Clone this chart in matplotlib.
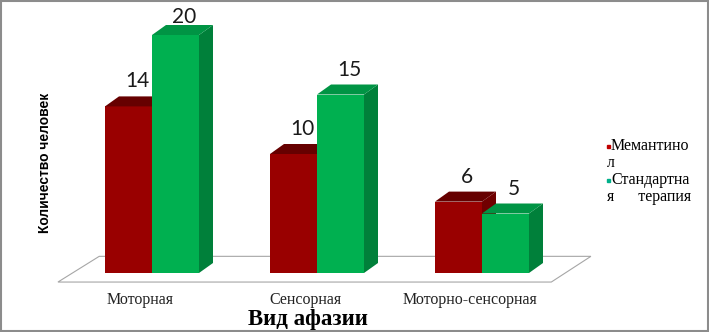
import numpy as np
import matplotlib.pyplot as plt
from matplotlib.patches import Polygon

categories = ["Моторная", "Сенсорная", "Моторно-сенсорная"]
memantinol = [14, 10, 6]
standard = [20, 15, 5]
series_names = ["Мемантино\nл", "Стандартна\nя      терапия"]

W, H = 709, 332
fig = plt.figure(figsize=(W / 100, H / 100), dpi=100)
ax = fig.add_axes([0, 0, 1, 1])
ax.set_axis_off()

# pixel based scale: 165 px per category, 11.9 px per person
px_x, px_y = 165.0, 11.9
x0_px, y0_px = 152, 273
ax.set_xlim(-x0_px / px_x, (W - x0_px) / px_x)
ax.set_ylim(-(H - y0_px) / px_y, y0_px / px_y)

dx, dy = 14 / px_x, 10 / px_y
bw = 47 / px_x
pos = np.arange(len(categories))

# floor
fl = [(-0.57, -0.76), (pos[-1] + 0.42, -0.76), (pos[-1] + 0.66, 1.4), (-0.32, 1.4)]
ax.add_patch(Polygon(fl, closed=True, facecolor="white", edgecolor="#a6a6a6", lw=0.8, zorder=1))

styles = [("#990000", "#700000", "#660000"), ("#00b050", "#00803a", "#009444")]
for k, (vals, (front, side, top)) in enumerate(zip([memantinol, standard], styles)):
    z = 3 + 3 * k
    bars = ax.bar(pos - bw + k * bw, vals, width=bw, align="edge", color=front, zorder=z)
    for r, v in zip(bars, vals):
        x, w, h = r.get_x(), r.get_width(), r.get_height()
        ax.add_patch(Polygon([(x + w, 0), (x + w + dx, dy), (x + w + dx, h + dy), (x + w, h)],
                             facecolor=side, edgecolor="none", zorder=z + 1))
        ax.add_patch(Polygon([(x, h), (x + dx, h + dy), (x + w + dx, h + dy), (x + w, h)],
                             facecolor=top, edgecolor="none", zorder=z + 1))
        ax.text(x + w / 2 + 0.6 * dx, min(h + 2.1, 21.5), str(v), ha="center", va="center",
                fontsize=15, family="Lato", color="#1a1a1a", zorder=10)

for p, c in zip(pos, categories):
    ax.text(p - 0.07, -2.3, c, ha="center", va="center", fontsize=11.5,
            family="Liberation Serif", color="#222222")

fig.text(308 / W, 1 - 320 / H, "Вид афазии", ha="center", va="center", fontsize=16.5,
         fontweight="bold", family="Liberation Serif")
fig.text(45 / W, 1 - 163 / H, "Количество человек", rotation=90, ha="center", va="center",
         fontsize=10, fontweight="bold", family="Liberation Sans")

# legend
leg_colors = ["#c00000", "#00b08a"]
for i, (name, col) in enumerate(zip(series_names, leg_colors)):
    ytop = 146 + i * 34
    fig.patches.append(plt.Rectangle((607 / W, 1 - (ytop + 2) / H), 3 / W, 3 / H,
                                     transform=fig.transFigure, color=col))
    fig.text(611 / W, 1 - ytop / H, name.split("\n")[0], ha="left", va="center",
             fontsize=11.5, family="Liberation Serif")
    fig.text(607 / W, 1 - (ytop + 17) / H, name.split("\n")[1], ha="left", va="center",
             fontsize=11.5, family="Liberation Serif")

fig.patches.append(plt.Rectangle((0.002, 0.003), 0.996, 0.994, transform=fig.transFigure,
                                 fill=False, edgecolor="#8c8c8c", lw=1.5))

fig.savefig("out.png", dpi=100)
